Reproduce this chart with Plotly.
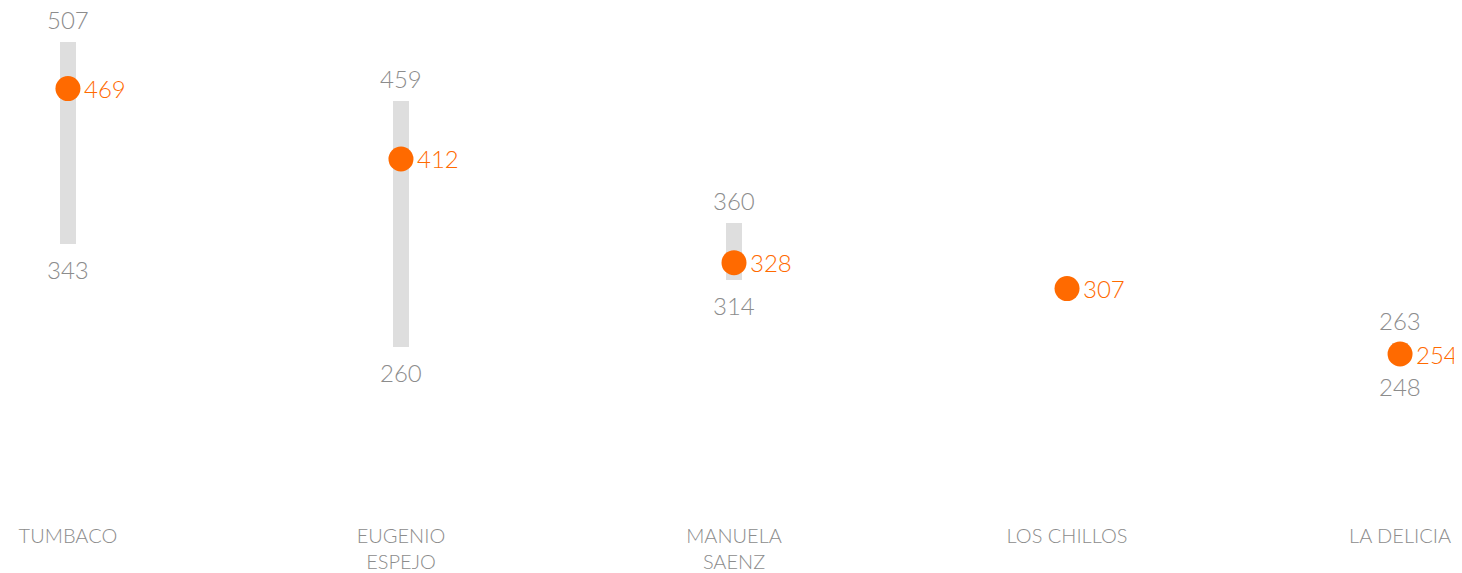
import plotly.graph_objects as go

categories = ["TUMBACO", "EUGENIO<br>ESPEJO", "MANUELA<br>SAENZ", "LOS CHILLOS", "LA DELICIA"]
range_min = [343, 260, 314, 307, 248]
range_max = [507, 459, 360, 307, 263]
values = [469, 412, 328, 307, 254]
show_range_labels = [True, True, True, False, True]

GRAY_BAR = "#dedede"
GRAY_TXT = "#8c8c8c"
ORANGE = "#ff6a00"
FONT = "Lato"

x = list(range(len(categories)))

fig = go.Figure()
fig.add_trace(go.Bar(
    x=x, y=[mx - mn for mn, mx in zip(range_min, range_max)], base=range_min,
    width=0.049, marker=dict(color=GRAY_BAR, line=dict(width=0)),
    hoverinfo="skip", showlegend=False,
))
fig.add_trace(go.Scatter(
    x=x, y=values, mode="markers",
    marker=dict(size=25, color=ORANGE, line=dict(width=0)),
    showlegend=False,
))

for i in x:
    fig.add_annotation(x=i, y=values[i], text=str(values[i]), showarrow=False,
                       xanchor="left", yanchor="middle", xshift=14,
                       font=dict(family=FONT, size=24, color=ORANGE, weight=300))
    if show_range_labels[i]:
        fig.add_annotation(x=i, y=range_max[i], text=str(range_max[i]), showarrow=False,
                           xanchor="center", yanchor="bottom", yshift=6,
                           font=dict(family=FONT, size=24, color=GRAY_TXT, weight=300))
        fig.add_annotation(x=i, y=range_min[i], text=str(range_min[i]), showarrow=False,
                           xanchor="center", yanchor="top", yshift=-9,
                           font=dict(family=FONT, size=24, color=GRAY_TXT, weight=300))

fig.update_layout(
    width=1454, height=565,
    margin=dict(l=0, r=0, t=0, b=47),
    plot_bgcolor="white", paper_bgcolor="white",
    xaxis=dict(range=[-0.180, 4.186], tickvals=x, ticktext=categories,
               showgrid=False, zeroline=False, showline=False, ticks="",
               tickfont=dict(family=FONT, size=20, color=GRAY_TXT, weight=300)),
    yaxis=dict(range=[117.9, 534.3], visible=False, showgrid=False, zeroline=False),
    bargap=0,
)

fig.write_html("out.html")
